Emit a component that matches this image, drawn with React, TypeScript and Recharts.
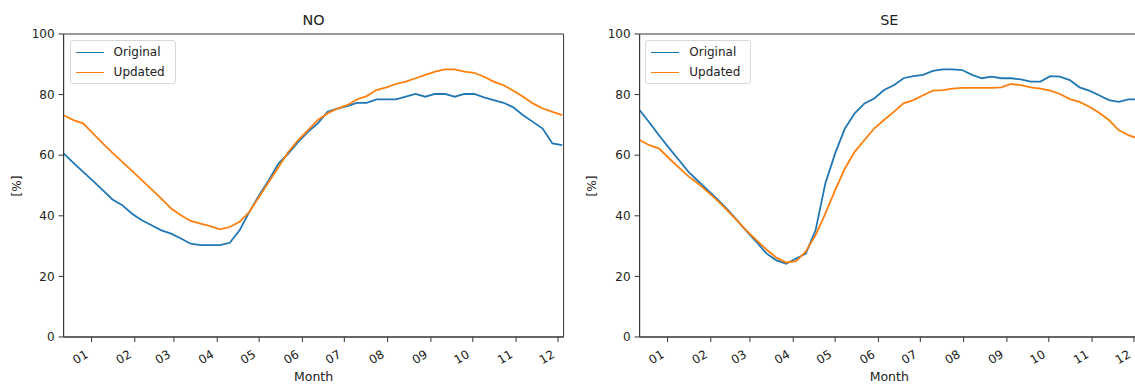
import React from 'react';
import { LineChart, Line, XAxis, YAxis, ReferenceArea } from 'recharts';

// weekly sample dates, as day-of-year offsets (0 = 1 Jan)
const days = [
  -20, -13, -6, 1, 8, 15, 22, 29, 36, 43, 50, 57, 64, 71, 78, 85, 92, 99, 106, 113,
  120, 127, 134, 141, 148, 155, 162, 169, 176, 183, 190, 197, 204, 211, 218, 225,
  232, 239, 246, 253, 260, 267, 274, 281, 288, 295, 302, 309, 316, 323, 330, 337,
];

const noOriginal = [
  60.6, 57.5, 54.5, 51.5, 48.5, 45.4, 43.5, 40.7, 38.5, 36.9, 35.2, 34.1, 32.5, 30.8, 30.3, 30.3, 30.3, 31.1, 35.2, 41.3,
  46.8, 51.8, 57.3, 60.6, 64.4, 67.7, 70.5, 74.3, 75.4, 76.2, 77.3, 77.3, 78.4, 78.4, 78.4, 79.3,
  80.2, 79.3, 80.2, 80.2, 79.3, 80.2, 80.2, 79.1, 78.2, 77.3, 75.8, 73.2, 71.0, 68.8, 63.9, 63.3,
];
const noUpdated = [
  73.2, 71.6, 70.5, 67.2, 63.9, 60.8, 57.8, 54.8, 51.8, 48.7, 45.7, 42.4, 40.2, 38.3, 37.4, 36.6, 35.5, 36.3, 38.0, 41.3,
  46.3, 51.2, 56.2, 61.1, 65.0, 68.3, 71.6, 73.8, 75.4, 76.5, 78.4, 79.5, 81.5, 82.4, 83.5, 84.3,
  85.4, 86.5, 87.6, 88.3, 88.3, 87.6, 87.2, 85.9, 84.3, 83.1, 81.3, 79.3, 77.1, 75.4, 74.3, 73.2,
];
const seOriginal = [
  74.9, 70.8, 66.5, 62.4, 58.5, 54.5, 51.4, 48.4, 45.3, 42.0, 38.4, 34.7, 31.2, 27.5, 25.3, 24.2, 25.9, 27.5, 35.2, 50.7,
  60.6, 68.8, 73.8, 77.1, 78.7, 81.5, 83.1, 85.4, 86.1, 86.5, 87.8, 88.3, 88.3, 88.1, 86.5, 85.4,
  85.9, 85.4, 85.4, 85.0, 84.3, 84.3, 86.1, 85.9, 84.8, 82.4, 81.3, 79.8, 78.2, 77.6, 78.4, 78.4,
];
const seUpdated = [
  65.0, 63.3, 62.2, 59.0, 56.0, 53.0, 50.6, 47.8, 44.9, 41.7, 38.3, 34.9, 31.8, 28.8, 26.2, 24.6, 25.0, 28.2, 33.6, 40.7,
  48.5, 55.6, 61.1, 65.0, 68.8, 71.6, 74.3, 77.1, 78.2, 79.8, 81.3, 81.5, 82.0, 82.2, 82.2, 82.2,
  82.2, 82.4, 83.5, 83.1, 82.4, 82.0, 81.3, 80.2, 78.5, 77.6, 76.0, 74.0, 71.6, 68.3, 66.6, 65.5,
];

const monthStarts = [0, 31, 59, 90, 120, 151, 181, 212, 243, 273, 304, 334];
const monthLabels = ['01', '02', '03', '04', '05', '06', '07', '08', '09', '10', '11', '12'];
const yTicks = [0, 20, 40, 60, 80, 100];
const seriesNames = ['Original', 'Updated'];

const FONT = '"DejaVu Sans", sans-serif';
const BLUE = '#1f77b4';
const ORANGE = '#ff7f0e';
const AXIS = '#333';
const TEXT = '#222';

const PLOT_TOP = 34;
const PLOT_H = 303;
const PLOT_W = 500;
const X_MIN = -20;
const X_MAX = 338;

const MonthTick = (props: any) => {
  const { x, payload } = props;
  const i = monthStarts.indexOf(payload.value);
  return (
    <g transform={`translate(${x - 7},${PLOT_TOP + PLOT_H + 12})`}>
      <text x={0} y={0} dy={9} textAnchor="end" transform="rotate(-30)" fontSize={12} fill={TEXT} fontFamily={FONT}>
        {monthLabels[i]}
      </text>
    </g>
  );
};

const LegendBox: React.FC<{ left: number }> = ({ left }) => (
  <div
    style={{
      position: 'absolute',
      left,
      top: 40,
      width: 106,
      height: 44,
      boxSizing: 'border-box',
      border: '1px solid #d9d9d9',
      borderRadius: 3,
      background: 'rgba(255,255,255,0.85)',
      padding: '1px 0 0 5px',
      fontFamily: FONT,
      fontSize: 12,
      color: TEXT,
    }}
  >
    {seriesNames.map((n, k) => (
      <div key={n} style={{ display: 'flex', alignItems: 'center', height: 20 }}>
        <span
          style={{
            display: 'inline-block', width: 28, height: 0,
            borderTop: `1.8px solid ${k === 0 ? BLUE : ORANGE}`, marginRight: 10,
          }}
        />
        <span>{n}</span>
      </div>
    ))}
  </div>
);

interface PanelProps {
  title: string;
  original: number[];
  updated: number[];
  left: number;
}

const Panel: React.FC<PanelProps> = ({ title, original, updated, left }) => {
  const data = days.map((d, i) => ({ day: d, Original: original[i], Updated: updated[i] }));
  const plotLeft = 63.6;
  const yAxisW = 40;
  const chartW = plotLeft + PLOT_W + 8;
  return (
    <div style={{ position: 'absolute', left, top: 0, width: chartW, height: 386 }}>
      <div
        style={{
          position: 'absolute', left: plotLeft, width: PLOT_W, top: 13, textAlign: 'center',
          fontFamily: FONT, fontSize: 14.4, lineHeight: 1, color: TEXT,
        }}
      >
        {title}
      </div>
      <div
        style={{
          position: 'absolute', left: 16.5, top: 186, transform: 'translate(-50%,-50%) rotate(-90deg)',
          fontFamily: FONT, fontSize: 12, lineHeight: 1, color: TEXT, whiteSpace: 'nowrap',
        }}
      >
        [%]
      </div>
      <div
        style={{
          position: 'absolute', left: plotLeft, width: PLOT_W, top: 371, textAlign: 'center',
          fontFamily: FONT, fontSize: 12.5, lineHeight: 1, color: TEXT,
        }}
      >
        Month
      </div>
      <LineChart
        width={chartW}
        height={386}
        data={data}
        margin={{ top: PLOT_TOP, right: chartW - plotLeft - PLOT_W, bottom: 9, left: plotLeft - yAxisW }}
      >
        <XAxis
          dataKey="day"
          type="number"
          domain={[X_MIN, X_MAX]}
          ticks={monthStarts}
          tick={<MonthTick />}
          tickSize={5}
          stroke={AXIS}
          height={386 - PLOT_TOP - PLOT_H - 9}
          allowDataOverflow
          interval={0}
        />
        <YAxis
          type="number"
          domain={[0, 100]}
          ticks={yTicks}
          tickSize={5}
          tickMargin={4}
          stroke={AXIS}
          width={yAxisW}
          tick={{ fontSize: 12, fill: TEXT, fontFamily: FONT }}
          interval={0}
        />
        <ReferenceArea x1={X_MIN} x2={X_MAX} y1={0} y2={100} fill="none" stroke={AXIS} strokeWidth={1} ifOverflow="visible" />
        <Line type="linear" dataKey="Original" stroke={BLUE} strokeWidth={1.8} dot={false} isAnimationActive={false} />
        <Line type="linear" dataKey="Updated" stroke={ORANGE} strokeWidth={1.8} dot={false} isAnimationActive={false} />
      </LineChart>
      <LegendBox left={plotLeft + 6} />
    </div>
  );
};

export default function App() {
  return (
    <div style={{ position: 'absolute', left: 0, top: 0, width: 1135, height: 386, overflow: 'hidden', background: '#fff' }}>
      <Panel title="NO" original={noOriginal} updated={noUpdated} left={0} />
      <Panel title="SE" original={seOriginal} updated={seUpdated} left={575.7} />
    </div>
  );
}
